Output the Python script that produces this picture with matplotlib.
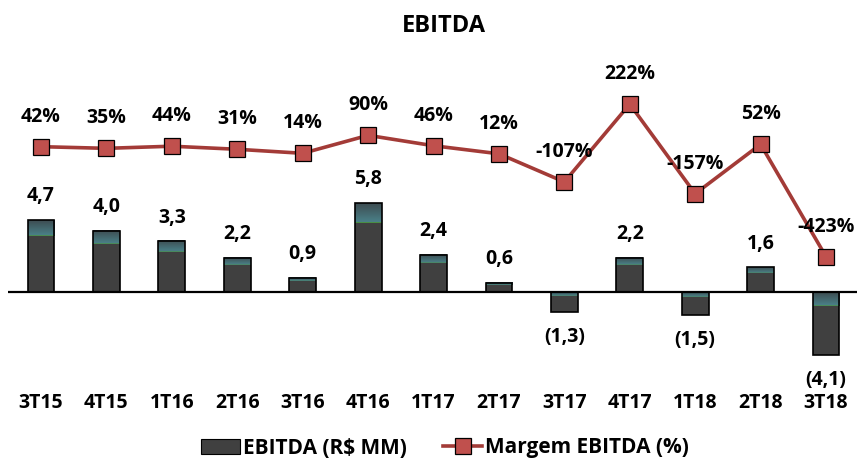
import numpy as np
import matplotlib
matplotlib.use("Agg")
import matplotlib.pyplot as plt
from matplotlib.patches import Patch
from matplotlib.lines import Line2D

# data
quarters = ["3T15", "4T15", "1T16", "2T16", "3T16", "4T16", "1T17",
            "2T17", "3T17", "4T17", "1T18", "2T18", "3T18"]
ebitda = [4.7, 4.0, 3.3, 2.2, 0.9, 5.8, 2.4, 0.6, -1.3, 2.2, -1.5, 1.6, -4.1]
margem = [42, 35, 44, 31, 14, 90, 46, 12, -107, 222, -157, 52, -423]

plt.rcParams['font.family'] = ['Open Sans', 'DejaVu Sans']
plt.rcParams['font.weight'] = 'bold'

barColor = '#404040'
lineColor = '#a33b37'
markerColor = '#c0504d'


def fmtEbitda(v):
    s = ('%.1f' % abs(v)).replace('.', ',')
    if v < 0:
        return '(' + s + ')'
    return s


fig = plt.figure(figsize=(8.57, 4.62), dpi=100)
ax = fig.add_axes([0.0097, 0.1558, 0.9923, 0.7143])

x = np.arange(len(quarters))
width = 0.41

# bar body
ax.bar(x, ebitda, width, color=barColor, edgecolor='none', zorder=2)

# gradient band on top of every bar (teal fading + thin green line)
grad = np.zeros((20, 1, 3))
top = np.array([0.24, 0.30, 0.32])
bot = np.array([0.29, 0.50, 0.53])
for i in range(19):
    t = i / 18.0
    grad[i, 0] = top * (1 - t) + bot * t
grad[19, 0] = [0.29, 0.56, 0.27]

for xi, v in zip(x, ebitda):
    hi = max(0, v)
    lo = hi - 0.22 * abs(v)
    ax.imshow(grad, extent=(xi - width / 2, xi + width / 2, lo, hi),
              aspect='auto', origin='upper', zorder=3, interpolation='bilinear')

ax.bar(x, ebitda, width, color='none', edgecolor='black', linewidth=1.2, zorder=4)

for xi, v in zip(x, ebitda):
    off = 17 if v >= 0 else -18
    ax.annotate(fmtEbitda(v), (xi, v), xytext=(0, off), textcoords='offset points',
                ha='center', va='center', fontsize=14, fontweight='bold')

ax.axhline(0, color='black', linewidth=1.6, zorder=5)

ax.set_xlim(-0.5, len(quarters) - 0.5)
ax.set_ylim(-6.42, 15.14)
ax.set_xticks(x)
ax.set_xticklabels(quarters, fontsize=14, fontweight='bold')
ax.tick_params(axis='x', length=0, pad=2)
ax.set_yticks([])
for s in ax.spines.values():
    s.set_visible(False)

# margin line on secondary axis
ax2 = ax.twinx()
ax2.plot(x, margem, color=lineColor, linewidth=2.6, marker='s', markersize=11,
         markerfacecolor=markerColor, markeredgecolor='black', markeredgewidth=0.9, zorder=3)
for xi, m in zip(x, margem):
    ax2.annotate('%d%%' % m, (xi, m), xytext=(0, 21.5), textcoords='offset points',
                 ha='center', va='center', fontsize=14, fontweight='bold')
ax2.set_ylim(-987, 408.5)
ax2.set_yticks([])
for s in ax2.spines.values():
    s.set_visible(False)

fig.text(444 / 857, 1 - 26 / 462, 'EBITDA', ha='center', va='center',
         fontsize=17, fontweight='bold')

handles = [Patch(facecolor=barColor, edgecolor='black', linewidth=0.8),
           Line2D([0], [0], color=lineColor, linewidth=2.6, marker='s', markersize=11,
                  markerfacecolor=markerColor, markeredgecolor='black', markeredgewidth=0.9)]
fig.legend(handles, ['EBITDA (R$ MM)', 'Margem EBITDA (%)'], loc='center',
           bbox_to_anchor=(445 / 857, 1 - 448 / 462), ncol=2, frameon=False,
           handlelength=1.9, handletextpad=0.15, columnspacing=1.7,
           prop={'weight': 'bold', 'size': 15})

fig.savefig('out.png', dpi=100)
